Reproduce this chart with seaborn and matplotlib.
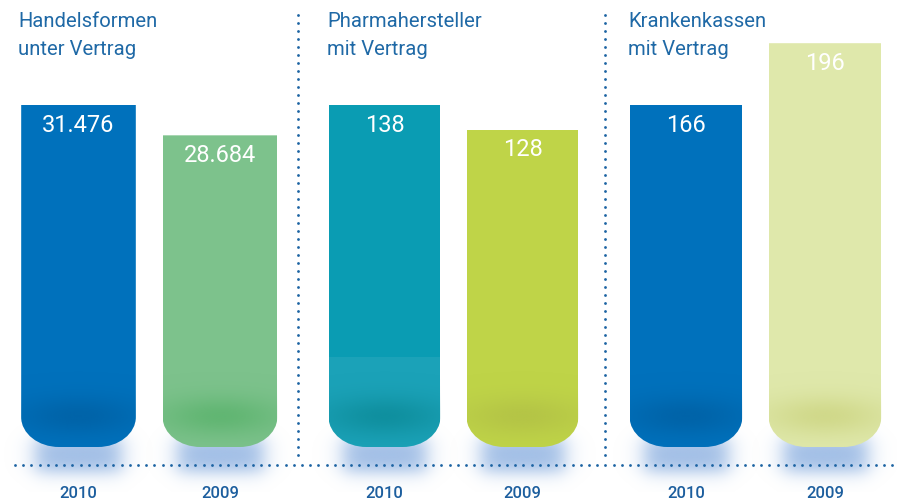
import numpy as np
import pandas as pd
import matplotlib
matplotlib.use("Agg")
import matplotlib.pyplot as plt
import seaborn as sns
from matplotlib.path import Path
from matplotlib.patches import PathPatch, Rectangle
from matplotlib.lines import Line2D
import matplotlib.colors as mcolors

# ---------------- data ----------------
panel_titles = ["Handelsformen\nunter Vertrag", "Pharmahersteller\nmit Vertrag", "Krankenkassen\nmit Vertrag"]
years = ["2010", "2009"]
values_handel = [31476, 28684]
values_pharma = [138, 128]
values_kassen = [166, 196]
labels_handel = ["31.476", "28.684"]
labels_pharma = ["138", "128"]
labels_kassen = ["166", "196"]

panel_values = [values_handel, values_pharma, values_kassen]
panel_labels = [labels_handel, labels_pharma, labels_kassen]

bar_colors = [["#0071bc", "#7dc28c"], ["#0a9cb3", "#bfd448"], ["#0071bc", "#dfe8ab"]]
dark_colors = [["#005b9c", "#4fae62"], ["#08848f", "#aebb45"], ["#005b9c", "#c7cf75"]]
shadow_color = "#86acdf"
title_color = "#1f69a6"
year_color = "#1c5e9e"
dot_color = "#1d64a3"

# ---------------- layout (pixels) ----------------
W, H = 897, 501
DPI = 100
plt.rcParams["font.family"] = ["Roboto", "DejaVu Sans"]

fig = plt.figure(figsize=(W / DPI, H / DPI), dpi=DPI)
fig.patch.set_facecolor("white")

panel_lr = [(7.75, 290.75), (315.5, 591.5), (616.5, 894.5)]
title_x = [18, 327, 628]
y_base_px = 447   # value 0
y_top_px = 30
ref_px = 342      # pixel height of the 2010 bar in each panel

def smooth_box(t, a, b, s):
    return 1.0 / (1 + np.exp(-(t - a) / s)) * 1.0 / (1 + np.exp((t - b) / s))

for pi in range(3):
    l, r = panel_lr[pi]
    ax = fig.add_axes([l / W, (H - y_base_px) / H, (r - l) / W, (y_base_px - y_top_px) / H])
    vals = panel_values[pi]
    ax_h_px = y_base_px - y_top_px
    ymax = vals[0] * ax_h_px / ref_px
    df = pd.DataFrame({"year": years, "value": vals})
    pal = dict(zip(years, bar_colors[pi]))
    sns.barplot(data=df, x="year", y="value", hue="year", palette=pal, width=0.81,
                saturation=1, legend=False, ax=ax, zorder=3)
    ax.set_xlim(-0.5, 1.5)
    ax.set_ylim(0, ymax)
    px_x = (r - l) / 2.0          # pixels per x unit
    px_y = ax_h_px / ymax         # pixels per y unit

    bars = sorted(ax.patches, key=lambda p: p.get_x())
    for bi, bar in enumerate(bars):
        bar.set_edgecolor("none")
        x0, w, h = bar.get_x(), bar.get_width(), bar.get_height()
        x1 = x0 + w
        rx = 38 / px_x
        ry = 30 / px_y
        k = 0.5523
        verts = [(x0, h), (x1, h), (x1, ry),
                 (x1, ry - k * ry), (x1 - rx + k * rx, 0), (x1 - rx, 0),
                 (x0 + rx, 0),
                 (x0 + rx - k * rx, 0), (x0, ry - k * ry), (x0, ry),
                 (x0, h)]
        codes = [Path.MOVETO, Path.LINETO, Path.LINETO,
                 Path.CURVE4, Path.CURVE4, Path.CURVE4,
                 Path.LINETO,
                 Path.CURVE4, Path.CURVE4, Path.CURVE4,
                 Path.CLOSEPOLY]
        clip = PathPatch(Path(verts, codes), transform=ax.transData, facecolor="none", edgecolor="none")
        ax.add_patch(clip)
        bar.set_clip_path(clip)
        cx = (x0 + x1) / 2

        # lighter lower section on the teal bar
        if pi == 1 and bi == 0:
            low = Rectangle((x0, 0), w, (447 - 357) / px_y, facecolor="#ffffff", alpha=0.07,
                            edgecolor="none", zorder=3.5)
            ax.add_patch(low)
            low.set_clip_path(clip)

        # dark glow near the bottom of the bar
        nx, ny = 120, 160
        gx = np.linspace(x0, x1, nx)
        gy = np.linspace(0, h, ny)
        GX, GY = np.meshgrid(gx, gy)
        dxp = (GX - cx) * px_x
        dyp = GY * px_y - 30
        a = np.exp(-(dxp / 62) ** 2) * np.exp(-(dyp / 20) ** 2) * 0.6
        rgba = np.zeros((ny, nx, 4))
        rgba[..., :3] = mcolors.to_rgb(dark_colors[pi][bi])
        rgba[..., 3] = a
        im = ax.imshow(rgba, extent=(x0, x1, 0, h), origin="lower", aspect="auto",
                       interpolation="bilinear", zorder=4)
        im.set_clip_path(clip)

        # soft blue shadow beneath the bar
        sx0, sx1 = x0 - 20 / px_x, x1 + 20 / px_x
        sy0, sy1 = -45 / px_y, 25 / px_y
        sgx = np.linspace(sx0, sx1, 140)
        sgy = np.linspace(sy0, sy1, 100)
        SX, SY = np.meshgrid(sgx, sgy)
        sxp = (SX - x0) * px_x
        syp = SY * px_y
        fx = smooth_box(sxp, 14, w * px_x - 14, 6)
        fy = smooth_box(syp, -25, 10, 5)
        srgba = np.zeros((100, 140, 4))
        srgba[..., :3] = mcolors.to_rgb(shadow_color)
        srgba[..., 3] = fx * fy * 0.8
        ax.imshow(srgba, extent=(sx0, sx1, sy0, sy1), origin="lower", aspect="auto",
                  interpolation="bilinear", zorder=1, clip_on=False)

        # value label
        ax.annotate(panel_labels[pi][bi], xy=(cx, h), xytext=(0, -14.5),
                    textcoords="offset points", ha="center", va="center",
                    color="white", fontsize=17, zorder=6)

    ax.set_xlim(-0.5, 1.5)
    ax.set_ylim(0, ymax)
    sns.despine(ax=ax, left=True, bottom=True)
    ax.set_yticks([])
    ax.set_xlabel("")
    ax.set_ylabel("")
    ax.tick_params(axis="x", length=0, pad=28, labelsize=12, labelcolor=year_color)
    for t in ax.get_xticklabels():
        t.set_fontweight("medium")
    ax.patch.set_alpha(0)

    # title
    lines = panel_titles[pi].split("\n")
    for li, line in enumerate(lines):
        fig.text(title_x[pi] / W, 1 - (27 + 28 * li) / H, line, ha="left", va="baseline",
                 color=title_color, fontsize=14.6)

# dotted baseline and separators
xs = np.arange(15, 897, 8.2)
fig.add_artist(Line2D(xs / W, np.full_like(xs, 1 - 465 / H), ls="none", marker="o", ms=2.0,
                      mec="none", mfc=dot_color, transform=fig.transFigure, zorder=5))
ys = np.arange(15, 458, 8.0)
for sx in (298, 605):
    fig.add_artist(Line2D(np.full_like(ys, sx / W), 1 - ys / H, ls="none", marker="o", ms=2.0,
                          mec="none", mfc=dot_color, transform=fig.transFigure, zorder=5))

fig.savefig("out.png", dpi=DPI)
